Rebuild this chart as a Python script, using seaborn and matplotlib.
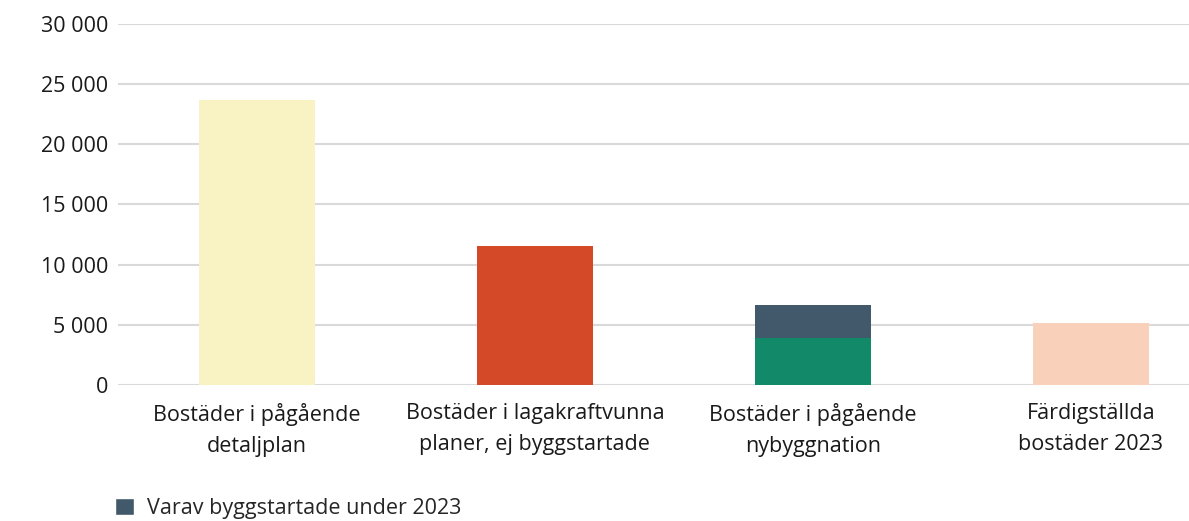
import matplotlib
matplotlib.use("Agg")
import matplotlib.pyplot as plt
import seaborn as sns
import pandas as pd
from matplotlib.patches import Patch
from matplotlib.ticker import FuncFormatter

categories = [
    "Bostäder i pågående\ndetaljplan",
    "Bostäder i lagakraftvunna\nplaner, ej byggstartade",
    "Bostäder i pågående\nnybyggnation",
    "Färdigställda\nbostäder 2023",
]
totals = [23700, 11550, 6650, 5150]
green_part = [0, 0, 3900, 0]
bar_colors = ["#F9F3C4", "#D44A28", "#41596A", "#F9D1BA"]
green_color = "#128A6A"
legend_label = "Varav byggstartade under 2023"
yticks = [0, 5000, 10000, 15000, 20000, 25000, 30000]

sns.set_theme(style="white")
plt.rcParams["font.family"] = ["Open Sans", "DejaVu Sans"]

df = pd.DataFrame({"cat": categories, "total": totals, "green": green_part})

fig = plt.figure(figsize=(11.89, 5.21), dpi=100)
ax = fig.add_axes([0.0992, 0.261, 0.935, 0.693])

sns.barplot(data=df, x="cat", y="total", hue="cat", palette=bar_colors,
            order=categories, hue_order=categories, legend=False,
            width=0.417, saturation=1, linewidth=0, ax=ax, zorder=3)
sub = df[df["green"] > 0]
sns.barplot(data=sub, x="cat", y="green", order=categories, color=green_color,
            width=0.417, saturation=1, linewidth=0, ax=ax, zorder=4)

ax.set_ylim(0, 30000)
ax.set_yticks(yticks)
ax.yaxis.set_major_formatter(FuncFormatter(lambda v, p: f"{int(v):,}".replace(",", " ")))
ax.grid(axis="y", color="#D9D9D9", linewidth=1.5, zorder=0)
ax.set_axisbelow(True)
for s in ax.spines.values():
    s.set_visible(False)
ax.set_xlabel("")
ax.set_ylabel("")
ax.tick_params(axis="y", labelsize=15.5, colors="#1a1a1a", length=0, pad=7)
ax.tick_params(axis="x", labelsize=15.5, colors="#1a1a1a", length=0, pad=13)
for lbl in ax.get_xticklabels():
    lbl.set_linespacing(1.65)

fig.legend(handles=[Patch(facecolor="#41596A", label=legend_label)],
           loc="lower left", bbox_to_anchor=(0.097, 0.004), frameon=False,
           borderpad=0, borderaxespad=0,
           fontsize=15.5, handlelength=0.85, handleheight=0.85, handletextpad=0.6)

fig.savefig("out.png", dpi=100)
